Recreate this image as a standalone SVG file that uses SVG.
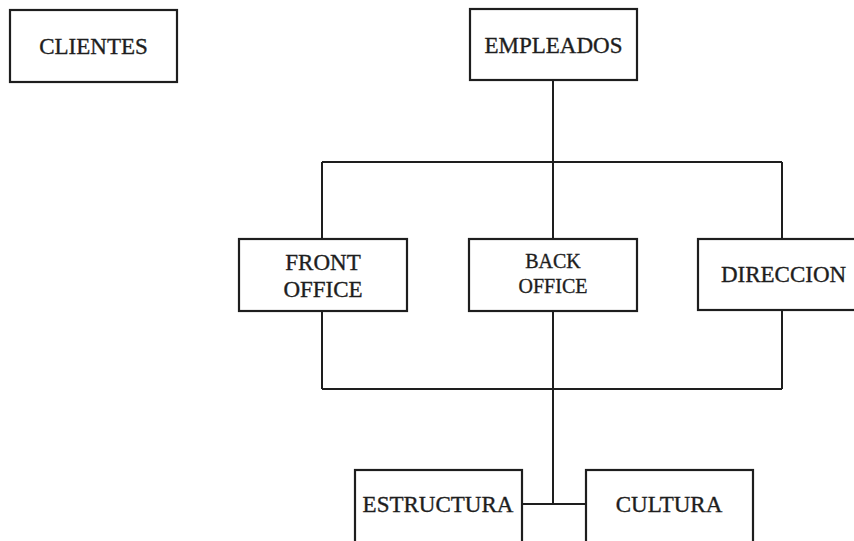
<svg xmlns="http://www.w3.org/2000/svg" width="854" height="541" viewBox="0 0 854 541">
<style>
.box{fill:#fff;stroke:#1e1e1e;stroke-width:2.2}
.ln{fill:none;stroke:#1e1e1e;stroke-width:2}
.t{font-family:"Liberation Serif","Times New Roman",serif;font-size:23px;fill:#1e1e1e;stroke:#1e1e1e;stroke-width:0.35;text-anchor:middle}
.s{font-size:20px}
</style>
<rect width="854" height="541" fill="#fff"/>
<g id="connectors">
<path class="ln" d="M553 80V239M322 162H782M322 162V239M782 162V239M322 311V389M782 310V389M553 311V504M322 389H782M522 504H586"/>
</g>
<g id="clientes"><rect class="box" x="10" y="10" width="167" height="72"/><text class="t" x="93.5" y="53.5">CLIENTES</text></g>
<g id="empleados"><rect class="box" x="470" y="9" width="167" height="71"/><text class="t" x="553.5" y="52.5">EMPLEADOS</text></g>
<g id="front-office"><rect class="box" x="239" y="239" width="168" height="72"/><text class="t" x="323" y="270">FRONT</text><text class="t" x="323" y="297">OFFICE</text></g>
<g id="back-office"><rect class="box" x="469" y="239" width="168" height="72"/><text class="t s" x="553" y="268">BACK</text><text class="t s" x="553" y="293">OFFICE</text></g>
<g id="direccion"><rect class="box" x="698" y="239" width="170" height="71"/><text class="t" x="783.5" y="282">DIRECCION</text></g>
<g id="estructura"><rect class="box" x="355" y="470" width="167" height="80"/><text class="t" x="438" y="512">ESTRUCTURA</text></g>
<g id="cultura"><rect class="box" x="586" y="470" width="167" height="80"/><text class="t" x="669" y="512">CULTURA</text></g>
</svg>
